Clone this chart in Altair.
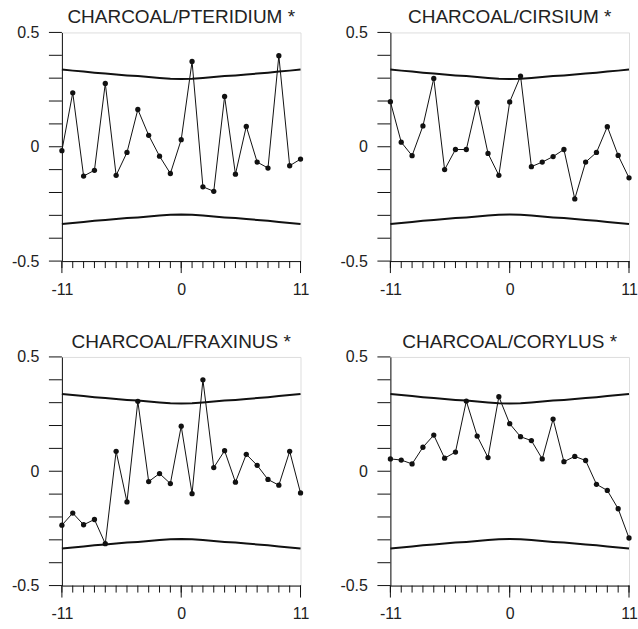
import altair as alt
import pandas as pd

lags = list(range(-11, 12))
major_lags = [-11, 0, 11]

titles = ["CHARCOAL/PTERIDIUM *", "CHARCOAL/CIRSIUM *",
          "CHARCOAL/FRAXINUS *", "CHARCOAL/CORYLUS *"]

pteridium = [-0.017, 0.236, -0.128, -0.103, 0.277, -0.125, -0.025, 0.163, 0.050, -0.041, -0.117, 0.031,
             0.373, -0.175, -0.195, 0.220, -0.120, 0.089, -0.067, -0.093, 0.398, -0.083, -0.054]
cirsium = [0.197, 0.020, -0.039, 0.091, 0.299, -0.100, -0.012, -0.012, 0.194, -0.029, -0.125, 0.196,
           0.309, -0.087, -0.067, -0.043, -0.012, -0.228, -0.067, -0.025, 0.088, -0.038, -0.136]
fraxinus = [-0.236, -0.183, -0.234, -0.211, -0.317, 0.087, -0.134, 0.306, -0.045, -0.010, -0.054, 0.197,
            -0.098, 0.400, 0.016, 0.090, -0.048, 0.074, 0.026, -0.036, -0.061, 0.087, -0.095]
corylus = [0.054, 0.049, 0.032, 0.105, 0.158, 0.057, 0.084, 0.307, 0.154, 0.060, 0.326, 0.208,
           0.151, 0.134, 0.054, 0.228, 0.042, 0.065, 0.047, -0.057, -0.084, -0.164, -0.292]

band_upper = [0.338, 0.333, 0.329, 0.324, 0.320, 0.316, 0.312, 0.309, 0.305, 0.301, 0.297, 0.296,
              0.297, 0.301, 0.305, 0.309, 0.312, 0.316, 0.320, 0.324, 0.329, 0.333, 0.338]
band_lower = [-0.338, -0.333, -0.329, -0.324, -0.320, -0.316, -0.312, -0.309, -0.305, -0.301, -0.297, -0.296,
              -0.297, -0.301, -0.305, -0.309, -0.312, -0.316, -0.320, -0.324, -0.329, -0.333, -0.338]

y_ticks = [-0.5, -0.4, -0.3, -0.2, -0.1, 0.0, 0.1, 0.2, 0.3, 0.4, 0.5]

FONT = "Liberation Sans"
INK = "#111111"
W, H = 239, 229
Y_MIN = -0.5
MINOR_END = -0.5306   # 7 px below the axis line
MAJOR_END = -0.5524   # 12 px below the axis line

xaxis = alt.Axis(
    values=lags,
    labelExpr="datum.value == -11 ? '-11' : (datum.value == 0 ? '0' : (datum.value == 11 ? '11' : ''))",
    ticks=False,
    labelPadding=20, labelAngle=0, labelFlush=False, labelOverlap=False,
    labelFont=FONT, labelFontSize=16, labelColor="#222222",
    domainColor=INK, domainWidth=1, grid=False, title=None,
)
yaxis = alt.Axis(
    values=y_ticks,
    labelExpr="abs(datum.value) < 0.001 ? '0' : (datum.value > 0.49 ? '0.5' : (datum.value < -0.49 ? '-0.5' : ''))",
    ticks=False, labelPadding=23, labelFlush=False, labelOverlap=False,
    labelFont=FONT, labelFontSize=16, labelColor="#222222",
    domainColor=INK, domainWidth=1, grid=False, title=None,
)


def panel(series, title):
    df = pd.DataFrame({"lag": lags, "r": series})
    bdf = pd.DataFrame({
        "lag": lags + lags,
        "r": band_upper + band_lower,
        "side": ["upper"] * len(lags) + ["lower"] * len(lags),
    })
    xs = alt.Scale(domain=[-11, 11], nice=False, zero=False)
    ys = alt.Scale(domain=[-0.5, 0.5], nice=False, zero=False)
    x = alt.X("lag:Q", scale=xs, axis=xaxis)
    y = alt.Y("r:Q", scale=ys, axis=yaxis)
    bands = alt.Chart(bdf).mark_line(color=INK, strokeWidth=2).encode(x=x, y=y, detail="side:N")
    line = alt.Chart(df).mark_line(color=INK, strokeWidth=1).encode(x=x, y=y)
    pts = alt.Chart(df).mark_circle(color=INK, size=28, opacity=1).encode(x=x, y=y)
    minor_x = alt.Chart(pd.DataFrame({"lag": lags, "y0": [Y_MIN] * len(lags), "y1": [MINOR_END] * len(lags)})).mark_rule(
        color=INK, strokeWidth=1
    ).encode(x=x, y=alt.Y("y0:Q", scale=ys, axis=yaxis), y2="y1:Q")
    major_x = alt.Chart(pd.DataFrame({"lag": major_lags, "y0": [Y_MIN] * 3, "y1": [MAJOR_END] * 3})).mark_rule(
        color=INK, strokeWidth=1
    ).encode(x=x, y=alt.Y("y0:Q", scale=ys, axis=yaxis), y2="y1:Q")
    ticks_y = alt.Chart(pd.DataFrame({"r": y_ticks})).mark_rule(color=INK, strokeWidth=1).encode(
        y=y, x=alt.value(-13), x2=alt.value(0)
    )
    return alt.layer(bands, line, pts, minor_x, major_x, ticks_y).properties(
        width=W, height=H,
        title=alt.TitleParams(title, fontSize=19, font=FONT, fontWeight="normal",
                              color="#222222", offset=-3, anchor="middle"),
    )


panels = [panel(s, t) for s, t in zip([pteridium, cirsium, fraxinus, corylus], titles)]

chart = alt.concat(*panels, columns=2, spacing={"row": 96, "column": 90}, bounds="flush").properties(
    padding={"left": 10, "top": 7, "right": 0, "bottom": 0},
).configure_view(stroke=None).configure(background="white")

chart.save("out.html", embed_options={"renderer": "svg", "actions": False})
